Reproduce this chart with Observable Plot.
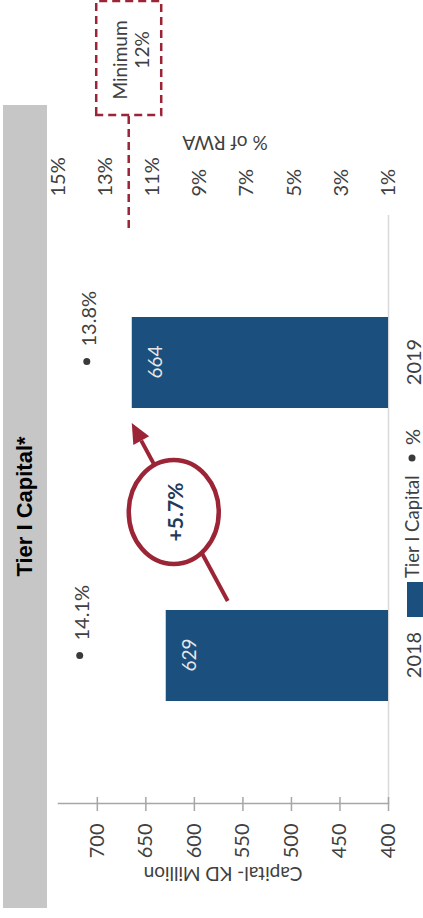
<!DOCTYPE html>
<html><head><meta charset="utf-8">
<script src="https://cdn.jsdelivr.net/npm/d3@7"></script>
<script src="https://cdn.jsdelivr.net/npm/@observablehq/plot@0.6"></script>
<style>
html,body{margin:0;padding:0;background:#fff;overflow:hidden;width:423px;height:918px;}
#chart{position:absolute;left:0;top:0;width:918px;height:423px;transform-origin:0 0;transform:translate(0px,918px) rotate(-90deg);background:#fff;font-family:Lato,sans-serif;}
#chart > *{position:absolute;left:0;top:0;}
#band{left:10px;top:3px;width:803px;height:44px;background:#c6c6c6;display:flex;align-items:center;justify-content:center;font:bold 22px "Liberation Sans",Arial,sans-serif;color:#000;}
</style></head><body>
<div id="chart"><div id="band"></div></div>
<script>
const years = ["2018", "2019"];
const tierOneCapital = [629, 664];
const capitalRatio = [14.1, 13.8];
const capitalTicks = [400, 450, 500, 550, 600, 650, 700];
const ratioTicks = [1, 3, 5, 7, 9, 11, 13, 15];
const minimumRatio = 12;
const growthLabel = "+5.7%";
const titleText = "Tier I Capital*";
const leftTitle = "Capital- KD Million";
const rightTitle = "% of RWA";
const seriesNames = ["Tier I Capital", "%"];
const minimumLines = ["Minimum", "12%"];

const rows = years.map((year, i) => ({year, capital: tierOneCapital[i], ratio: capitalRatio[i]}));

const W = 918, H = 423;
const barColor = "#1b4f7d", red = "#9b2436", textColor = "#404040";
const frame = {width: W, height: H, marginLeft: 114, marginRight: 215, marginTop: 58, marginBottom: 35};
const style = {background: "transparent", fontFamily: "Lato, sans-serif", fontSize: "20px", color: textColor, overflow: "visible"};
const xOpts = {domain: years, paddingInner: 0.69, paddingOuter: 0.347};

document.getElementById("band").textContent = titleText;
const chart = document.getElementById("chart");

const p1 = Plot.plot({
  ...frame, style,
  x: {...xOpts, label: null},
  y: {domain: [400, 740], label: null},
  marks: [
    Plot.ruleY([400], {stroke: "#d9d9d9", strokeWidth: 1.5}),
    Plot.barY(rows, {x: "year", y1: 400, y2: "capital", fill: barColor}),
    Plot.text(rows, {x: "year", y: "capital", text: d => `${d.capital}`, dy: 24, fill: "#e6e6e6", fontSize: 19}),
    Plot.frame({anchor: "left", stroke: "#a6a6a6", strokeWidth: 1.5}),
    Plot.axisY({ticks: capitalTicks, tickSize: 14, dx: 7, tickFormat: () => "", stroke: "#a6a6a6", strokeWidth: 1.5, label: null}),
    Plot.axisY({ticks: capitalTicks, tickSize: 0, tickPadding: 20, label: null}),
    Plot.axisX({tickSize: 0, tickPadding: 18, label: null})
  ]
});
chart.appendChild(p1);

const p2 = Plot.plot({
  ...frame, style,
  x: {...xOpts, axis: null},
  y: {domain: [1, 15], label: null},
  marks: [
    Plot.dot(rows, {x: "year", y: "ratio", r: 3.5, fill: "#3a3a3a"}),
    Plot.text(rows, {x: "year", y: "ratio", text: d => d.ratio.toFixed(1) + "%", textAnchor: "start", dx: 15, dy: 3, fill: textColor}),
    Plot.axisY({anchor: "right", ticks: ratioTicks, tickSize: 0, tickPadding: 18, tickFormat: d => d + "%", label: null})
  ]
});
chart.appendChild(p2);

// annotation overlay, positioned from the Plot scales
const xs = p1.scale("x"), ys = p1.scale("y"), rs = p2.scale("y");
const bw = xs.bandwidth;
const b1L = xs.apply(years[0]), b2L = xs.apply(years[1]);
const svg = d3.select(chart).append("svg").attr("width", W).attr("height", H)
  .style("overflow", "visible").style("font-family", "Lato, sans-serif").style("font-size", "20px");

// axis titles
svg.append("text").attr("transform", `translate(44,${(frame.marginTop + H - frame.marginBottom) / 2}) rotate(-90)`)
  .attr("text-anchor", "middle").attr("dominant-baseline", "central").attr("font-size", 19).attr("fill", textColor).text(leftTitle);
svg.append("text").attr("transform", `translate(775,${(frame.marginTop + H - frame.marginBottom) / 2 + 2}) rotate(-90)`)
  .attr("text-anchor", "middle").attr("dominant-baseline", "central").attr("font-size", 19).attr("fill", textColor).text(rightTitle);

// minimum line and box
const my = rs.apply(minimumRatio);
const plotRight = W - frame.marginRight;
svg.append("line").attr("x1", plotRight - 13).attr("x2", 803).attr("y1", my).attr("y2", my)
  .attr("stroke", red).attr("stroke-width", 2.5).attr("stroke-dasharray", "8 5");
svg.append("rect").attr("x", 803).attr("y", my - 32.5).attr("width", 114).attr("height", 65)
  .attr("fill", "none").attr("stroke", red).attr("stroke-width", 2.5).attr("stroke-dasharray", "8 5");
svg.append("text").attr("x", 858).attr("y", my - 9.5).attr("text-anchor", "middle").attr("dominant-baseline", "central")
  .attr("fill", textColor).attr("font-size", 19).text(minimumLines[0]);
svg.append("text").attr("x", 868).attr("y", my + 12.5).attr("text-anchor", "middle").attr("dominant-baseline", "central")
  .attr("fill", textColor).attr("font-size", 19).text(minimumLines[1]);

// growth arrow
const sx = b1L + bw + 9, sy = ys.apply(tierOneCapital[0]) + 62;
const tx = b2L - 15, ty = ys.apply(tierOneCapital[1]);
const dxv = tx - sx, dyv = ty - sy, len = Math.hypot(dxv, dyv);
const ux = dxv / len, uy = dyv / len;
const headL = 20, headW = 9;
const bx = tx - ux * headL, by = ty - uy * headL;
svg.append("line").attr("x1", sx).attr("y1", sy).attr("x2", bx).attr("y2", by)
  .attr("stroke", red).attr("stroke-width", 4);
svg.append("polygon").attr("points", `${tx},${ty} ${bx - uy * headW},${by + ux * headW} ${bx + uy * headW},${by - ux * headW}`)
  .attr("fill", red);
const cx = (sx + tx) / 2, cy = (sy + ty) / 2 - 6;
svg.append("ellipse").attr("cx", cx).attr("cy", cy).attr("rx", 52).attr("ry", 45)
  .attr("fill", "#fff").attr("stroke", red).attr("stroke-width", 4.5);
svg.append("text").attr("x", cx).attr("y", cy + 1).attr("text-anchor", "middle").attr("dominant-baseline", "central")
  .attr("font-weight", "bold").attr("font-size", 21).attr("fill", "#1f3b5c").text(growthLabel);

// legend
const ly = 412;
svg.append("rect").attr("x", 301).attr("y", 407).attr("width", 35).attr("height", 16).attr("fill", barColor);
svg.append("text").attr("x", 340).attr("y", ly).attr("dominant-baseline", "central").attr("font-size", 18.5).attr("fill", textColor).text(seriesNames[0]);
svg.append("circle").attr("cx", 460).attr("cy", ly).attr("r", 3.5).attr("fill", "#3a3a3a");
svg.append("text").attr("x", 473).attr("y", ly).attr("dominant-baseline", "central").attr("fill", textColor).text(seriesNames[1]);
</script>
</body></html>
